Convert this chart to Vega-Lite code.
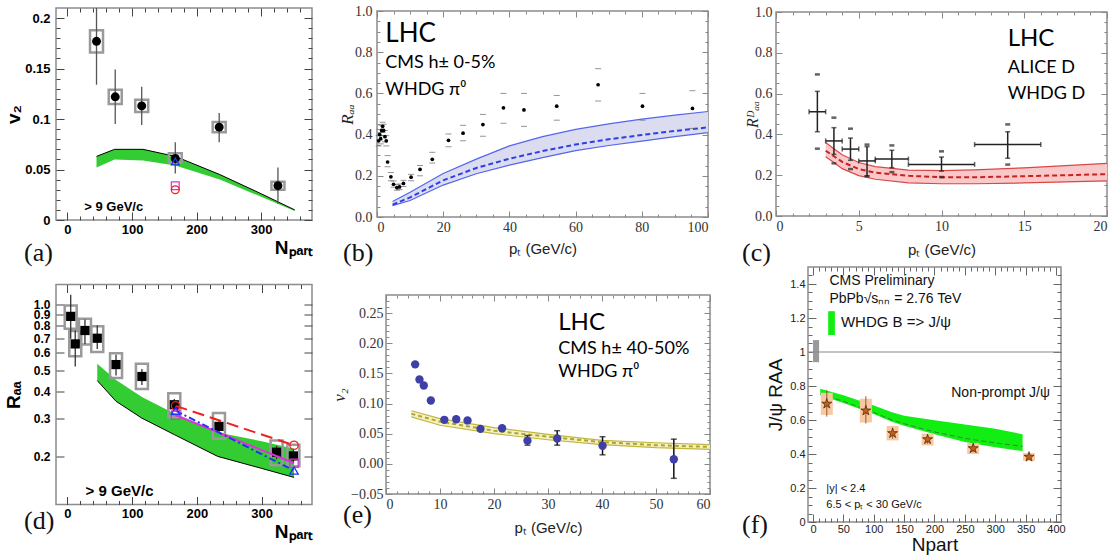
{
"$schema": "https://vega.github.io/schema/vega-lite/v6.json",
"padding": {"left": 3, "top": 3, "right": 0, "bottom": 0},
"background": "white",
"config": {"view": {"stroke": "#8c8c8c", "strokeWidth": 1.5}, "axis": {"grid": false, "domain": false, "labelOverlap": false, "tickCount": 200},
  "title": {"font": "Liberation Serif", "fontSize": 26, "fontWeight": "normal", "color": "#111", "orient": "bottom", "anchor": "start", "frame": "group"}},
"datasets": {
 "a_pts": [
  {"n":45,"v":0.177,"slo":0.134,"shi":0.22,"ylo":0.166,"yhi":0.188},
  {"n":74,"v":0.122,"slo":0.095,"shi":0.149,"ylo":0.115,"yhi":0.129},
  {"n":115,"v":0.113,"slo":0.094,"shi":0.132,"ylo":0.107,"yhi":0.119},
  {"n":167,"v":0.061,"slo":0.046,"shi":0.077,"ylo":0.057,"yhi":0.066},
  {"n":235,"v":0.092,"slo":0.077,"shi":0.106,"ylo":0.087,"yhi":0.097},
  {"n":326,"v":0.034,"slo":0.016,"shi":0.052,"ylo":0.030,"yhi":0.038}],
 "a_band": [
  {"n":45,"lo":0.052,"hi":0.063},{"n":73,"lo":0.060,"hi":0.070},{"n":117,"lo":0.059,"hi":0.070},
  {"n":167,"lo":0.054,"hi":0.063},{"n":236,"lo":0.040,"hi":0.045},{"n":300,"lo":0.023,"hi":0.026},{"n":352,"lo":0.009,"hi":0.010}],
 "a_model": [{"m":"blue","n":167,"v":0.058},{"m":"mag","n":167,"v":0.034},{"m":"red","n":167,"v":0.030}],
 "b_pts": [
  {"pt":0.5,"r":0.37,"lo":0.345,"hi":0.395},{"pt":0.8,"r":0.40,"lo":0.375,"hi":0.425},
  {"pt":1.1,"r":0.38,"lo":0.355,"hi":0.41},{"pt":1.4,"r":0.42,"lo":0.395,"hi":0.445},
  {"pt":1.7,"r":0.44,"lo":0.41,"hi":0.46},{"pt":2.0,"r":0.42,"lo":0.395,"hi":0.45},
  {"pt":2.4,"r":0.39,"lo":0.365,"hi":0.42},{"pt":2.8,"r":0.37,"lo":0.345,"hi":0.395},
  {"pt":3.2,"r":0.267,"lo":0.244,"hi":0.298},{"pt":4.2,"r":0.195,"lo":0.176,"hi":0.216},
  {"pt":5.0,"r":0.159,"lo":0.145,"hi":0.175},{"pt":6.0,"r":0.143,"lo":0.13,"hi":0.157},
  {"pt":6.8,"r":0.146,"lo":0.133,"hi":0.16},{"pt":8.0,"r":0.163,"lo":0.148,"hi":0.178},
  {"pt":10.3,"r":0.193,"lo":0.176,"hi":0.207},{"pt":13.0,"r":0.231,"lo":0.20,"hi":0.25},
  {"pt":16.7,"r":0.28,"lo":0.262,"hi":0.314},{"pt":21.6,"r":0.372,"lo":0.341,"hi":0.403},
  {"pt":26.0,"r":0.407,"lo":0.37,"hi":0.445},{"pt":32.0,"r":0.449,"lo":0.392,"hi":0.498},
  {"pt":38.2,"r":0.53,"lo":0.455,"hi":0.60},{"pt":44.4,"r":0.52,"lo":0.44,"hi":0.60},
  {"pt":54.3,"r":0.538,"lo":0.47,"hi":0.59},{"pt":66.8,"r":0.642,"lo":0.563,"hi":0.72},
  {"pt":80.2,"r":0.538,"lo":0.47,"hi":0.60},{"pt":95.3,"r":0.527,"lo":0.43,"hi":0.613}],
 "b_band": [
  {"pt":4.7,"lo":0.055,"mid":0.06,"hi":0.075},{"pt":10,"lo":0.08,"mid":0.095,"hi":0.12},
  {"pt":20,"lo":0.155,"mid":0.178,"hi":0.211},{"pt":30,"lo":0.21,"mid":0.238,"hi":0.281},
  {"pt":40,"lo":0.252,"mid":0.283,"hi":0.345},{"pt":50,"lo":0.288,"mid":0.32,"hi":0.39},
  {"pt":60,"lo":0.322,"mid":0.352,"hi":0.425},{"pt":70,"lo":0.347,"mid":0.377,"hi":0.452},
  {"pt":80,"lo":0.368,"mid":0.398,"hi":0.475},{"pt":90,"lo":0.39,"mid":0.418,"hi":0.495},
  {"pt":100,"lo":0.41,"mid":0.435,"hi":0.512}],
 "c_pts": [
  {"pt":2.5,"xlo":2,"xhi":3,"r":0.511,"slo":0.413,"shi":0.611,"ylo":0.33,"yhi":0.694},
  {"pt":3.5,"xlo":3,"xhi":4,"r":0.368,"slo":0.302,"shi":0.433,"ylo":0.258,"yhi":0.482},
  {"pt":4.5,"xlo":4,"xhi":5,"r":0.328,"slo":0.273,"shi":0.382,"ylo":0.23,"yhi":0.428},
  {"pt":5.5,"xlo":5,"xhi":6,"r":0.27,"slo":0.196,"shi":0.34,"ylo":0.195,"yhi":0.35},
  {"pt":7,"xlo":6,"xhi":8,"r":0.279,"slo":0.237,"shi":0.322,"ylo":0.215,"yhi":0.346},
  {"pt":10,"xlo":8,"xhi":12,"r":0.253,"slo":0.22,"shi":0.289,"ylo":0.191,"yhi":0.317},
  {"pt":14,"xlo":12,"xhi":16,"r":0.35,"slo":0.283,"shi":0.413,"ylo":0.252,"yhi":0.449}],
 "c_band": [
  {"pt":3,"lo":0.29,"mid":0.32,"hi":0.36},{"pt":3.5,"lo":0.262,"mid":0.293,"hi":0.33},
  {"pt":4,"lo":0.232,"mid":0.265,"hi":0.30},{"pt":5,"lo":0.198,"mid":0.23,"hi":0.262},
  {"pt":6,"lo":0.18,"mid":0.212,"hi":0.242},{"pt":8,"lo":0.162,"mid":0.197,"hi":0.225},
  {"pt":10,"lo":0.158,"mid":0.19,"hi":0.222},{"pt":12,"lo":0.158,"mid":0.19,"hi":0.226},
  {"pt":15,"lo":0.162,"mid":0.195,"hi":0.236},{"pt":20,"lo":0.172,"mid":0.205,"hi":0.258}],
 "d_pts": [
  {"n":5,"r":0.884,"slo":0.697,"shi":1.112,"ylo":0.775,"yhi":0.993},
  {"n":12,"r":0.66,"slo":0.519,"shi":0.761,"ylo":0.579,"yhi":0.756},
  {"n":27,"r":0.761,"slo":0.66,"shi":0.856,"ylo":0.656,"yhi":0.862},
  {"n":46,"r":0.701,"slo":0.626,"shi":0.803,"ylo":0.605,"yhi":0.797},
  {"n":75,"r":0.53,"slo":0.472,"shi":0.588,"ylo":0.46,"yhi":0.598},
  {"n":115,"r":0.467,"slo":0.427,"shi":0.506,"ylo":0.409,"yhi":0.534},
  {"n":165,"r":0.346,"slo":0.322,"shi":0.368,"ylo":0.303,"yhi":0.391},
  {"n":234,"r":0.275,"slo":0.258,"shi":0.292,"ylo":0.241,"yhi":0.317},
  {"n":323,"r":0.209,"slo":0.194,"shi":0.224,"ylo":0.182,"yhi":0.237},
  {"n":349,"r":0.201,"slo":0.188,"shi":0.216,"ylo":0.18,"yhi":0.226}],
 "d_band": [
  {"n":46,"lo":0.447,"hi":0.534},{"n":75,"lo":0.359,"hi":0.45},{"n":115,"lo":0.30,"hi":0.376},
  {"n":165,"lo":0.252,"hi":0.315},{"n":232,"lo":0.20,"hi":0.258},{"n":300,"lo":0.176,"hi":0.235},{"n":350,"lo":0.16,"hi":0.217}],
 "d_models": [
  {"m":"red","n":167,"r":0.342},{"m":"red","n":350,"r":0.225},
  {"m":"mag","n":167,"r":0.31},{"m":"mag","n":350,"r":0.186},
  {"m":"blue","n":167,"r":0.325},{"m":"blue","n":350,"r":0.172}],
 "e_pts": [
  {"pt":5.4,"v":0.165},{"pt":6.2,"v":0.140},{"pt":7.0,"v":0.130},{"pt":8.3,"v":0.105},
  {"pt":10.8,"v":0.073},{"pt":13.0,"v":0.074},{"pt":15.1,"v":0.072},{"pt":17.5,"v":0.058},{"pt":21.5,"v":0.059},
  {"pt":26.2,"v":0.0385,"lo":0.031,"hi":0.047},{"pt":31.7,"v":0.042,"lo":0.031,"hi":0.055},
  {"pt":40.1,"v":0.030,"lo":0.015,"hi":0.045},{"pt":53.3,"v":0.0077,"lo":-0.024,"hi":0.041}],
 "e_band": [
  {"pt":4.7,"lo":0.078,"mid":0.083,"hi":0.088},{"pt":10,"lo":0.064,"mid":0.070,"hi":0.075},
  {"pt":20,"lo":0.050,"mid":0.055,"hi":0.060},{"pt":30,"lo":0.040,"mid":0.045,"hi":0.049},
  {"pt":40,"lo":0.032,"mid":0.036,"hi":0.039},{"pt":50,"lo":0.027,"mid":0.031,"hi":0.035},
  {"pt":60,"lo":0.024,"mid":0.028,"hi":0.032}],
 "f_pts": [
  {"n":22.7,"r":0.695,"blo":0.63,"bhi":0.76,"slo":0.62,"shi":0.775},
  {"n":87,"r":0.655,"blo":0.585,"bhi":0.725,"slo":0.58,"shi":0.74},
  {"n":131,"r":0.522,"blo":0.48,"bhi":0.565,"slo":0.49,"shi":0.555},
  {"n":188.6,"r":0.486,"blo":0.45,"bhi":0.52,"slo":0.46,"shi":0.51},
  {"n":263.7,"r":0.433,"blo":0.40,"bhi":0.465,"slo":0.41,"shi":0.455},
  {"n":355.6,"r":0.383,"blo":0.36,"bhi":0.405,"slo":0.37,"shi":0.395}],
 "f_band": [
  {"n":12,"lo":0.745,"mid":0.752,"hi":0.784},{"n":50,"lo":0.70,"mid":0.71,"hi":0.745},
  {"n":100,"lo":0.635,"mid":0.645,"hi":0.685},{"n":130,"lo":0.59,"mid":0.60,"hi":0.645},
  {"n":150,"lo":0.566,"mid":0.578,"hi":0.625},{"n":200,"lo":0.516,"mid":0.53,"hi":0.598},
  {"n":250,"lo":0.47,"mid":0.492,"hi":0.574},{"n":300,"lo":0.44,"mid":0.465,"hi":0.548},
  {"n":345,"lo":0.417,"mid":0.445,"hi":0.516}]
},
"vconcat": [
 {"hconcat": [
  {"width": 256, "height": 212,
   "title": {"text": "(a)", "dx": -32, "offset": -17},
   "resolve": {"axis": {"x": "independent", "y": "independent"}},
   "layer": [
    {"layer": [
    {"data": {"name": "a_band"}, "mark": {"type": "area", "color": "#33cc33", "opacity": 1},
     "encoding": {
      "x": {"field": "n", "type": "quantitative", "scale": {"domain": [-10, 371], "nice": false, "zero": false},
            "axis": {"title": "Nₚₐᵣₜ", "values": [0,20,40,60,80,100,120,140,160,180,200,220,240,260,280,300,320,340,360], "tickCount": 200, "format": "d", "labelExpr": "datum.value % 100 === 0 ? datum.label : ''", "tickSize": {"condition": {"test": "datum.value % 100 === 0", "value": -8}, "value": -4}, "labelOverlap": false, "titleAnchor": "end", "titleFont": "Liberation Sans", "titleFontWeight": "bold", "titleFontSize": 19, "titleColor": "#000", "titlePadding": -2, "labelFont": "Liberation Sans", "labelFontWeight": "bold", "labelFontSize": 13, "labelColor": "#000", "tickColor": "#444", "labelPadding": 11}},
      "y": {"field": "lo", "type": "quantitative", "scale": {"domain": [0, 0.21], "nice": false},
            "axis": {"title": "v₂", "values": [0,0.01,0.02,0.03,0.04,0.05,0.06,0.07,0.08,0.09,0.1,0.11,0.12,0.13,0.14,0.15,0.16,0.17,0.18,0.19,0.2], "tickCount": 200, "format": ".2~f", "labelExpr": "abs(datum.value*20 - round(datum.value*20)) < 0.001 ? datum.label : ''", "tickSize": {"condition": {"test": "abs(datum.value*20 - round(datum.value*20)) < 0.001", "value": -8}, "value": -4}, "labelOverlap": false, "titleFont": "Liberation Sans", "titleFontWeight": "bold", "titleFontSize": 19, "titleColor": "#000", "titlePadding": 2, "minExtent": 31, "maxExtent": 31, "labelFont": "Liberation Sans", "labelFontWeight": "bold", "labelFontSize": 13, "labelColor": "#000", "tickColor": "#444", "labelPadding": 14}},
      "y2": {"field": "hi"}}},
    {"data": {"name": "a_band"}, "mark": {"type": "line", "color": "#000", "strokeWidth": 1},
     "encoding": {"x": {"field": "n", "type": "quantitative"}, "y": {"field": "hi", "type": "quantitative"}}},
    {"data": {"name": "a_pts"}, "mark": {"type": "bar", "width": 13, "fillOpacity": 0, "stroke": "#9a9a9a", "strokeWidth": 2.5},
     "encoding": {"x": {"field": "n", "type": "quantitative"}, "y": {"field": "ylo", "type": "quantitative"}, "y2": {"field": "yhi"}}},
    {"data": {"name": "a_pts"}, "mark": {"type": "rule", "color": "#555", "strokeWidth": 1.3, "clip": true},
     "encoding": {"x": {"field": "n", "type": "quantitative"}, "y": {"field": "slo", "type": "quantitative"}, "y2": {"field": "shi"}}},
    {"data": {"name": "a_pts"}, "mark": {"type": "point", "shape": "circle", "filled": true, "color": "#000", "size": 80, "opacity": 1},
     "encoding": {"x": {"field": "n", "type": "quantitative"}, "y": {"field": "v", "type": "quantitative"}}},
    {"data": {"name": "a_model"}, "mark": {"type": "point", "filled": false, "size": 60, "strokeWidth": 1.3, "opacity": 1},
     "encoding": {"x": {"field": "n", "type": "quantitative"}, "y": {"field": "v", "type": "quantitative"},
      "shape": {"field": "m", "type": "nominal", "scale": {"domain": ["red","mag","blue"], "range": ["circle","square","triangle-up"]}, "legend": null},
      "color": {"field": "m", "type": "nominal", "scale": {"domain": ["red","mag","blue"], "range": ["#ee2222","#dd33dd","#2233ee"]}, "legend": null}}},
    {"data": {"values": [{}]}, "mark": {"type": "text", "text": "> 9 GeV/c", "font": "Liberation Sans", "fontWeight": "bold", "fontSize": 13, "align": "left", "baseline": "middle"},
     "encoding": {"x": {"datum": 26}, "y": {"datum": 0.013}}}
    ]},
    {"data": {"values": [{}]}, "mark": {"type": "point", "opacity": 0},
     "encoding": {
      "x": {"datum": 100, "type": "quantitative", "axis": {"orient": "top", "title": null, "labels": false, "tickCount": 200, "values": [0,20,40,60,80,100,120,140,160,180,200,220,240,260,280,300,320,340,360], "tickSize": {"condition": {"test": "datum.value % 100 === 0", "value": -8}, "value": -4}, "tickColor": "#444"}},
      "y": {"datum": 0.1, "type": "quantitative", "axis": {"orient": "right", "title": null, "labels": false, "tickCount": 200, "values": [0,0.01,0.02,0.03,0.04,0.05,0.06,0.07,0.08,0.09,0.1,0.11,0.12,0.13,0.14,0.15,0.16,0.17,0.18,0.19,0.2], "tickSize": {"condition": {"test": "abs(datum.value*20 - round(datum.value*20)) < 0.001", "value": -8}, "value": -4}, "tickColor": "#444"}}}}
   ]},
  {"width": 65, "height": 10, "data": {"values": []}, "mark": "point", "encoding": {}, "view": {"stroke": null}},
  {"width": 331, "height": 206,
   "title": {"text": "(b)", "dx": -34, "offset": -16},
   "resolve": {"axis": {"x": "independent", "y": "independent"}},
   "layer": [
    {"layer": [
    {"data": {"name": "b_band"}, "mark": {"type": "area", "color": "#dcdcf0", "opacity": 1},
     "encoding": {
      "x": {"field": "pt", "type": "quantitative", "scale": {"domain": [0, 100], "nice": false, "zero": false},
            "axis": {"title": "pₜ (GeV/c)", "values": [0,5,10,15,20,25,30,35,40,45,50,55,60,65,70,75,80,85,90,95,100], "tickCount": 200, "format": "d", "labelExpr": "datum.value % 20 === 0 ? datum.label : ''", "tickSize": {"condition": {"test": "datum.value % 20 === 0", "value": -6}, "value": -3}, "labelOverlap": false, "titleFont": "Liberation Sans", "titleFontSize": 15, "titleFontWeight": "normal", "titleColor": "#222", "titlePadding": 4, "labelFont": "Liberation Serif", "labelFontSize": 14, "labelColor": "#333", "tickColor": "#888", "labelPadding": 9}},
      "y": {"field": "lo", "type": "quantitative", "scale": {"domain": [0, 1], "nice": false},
            "axis": {"title": "Rₐₐ", "values": [0,0.05,0.1,0.15,0.2,0.25,0.3,0.35,0.4,0.45,0.5,0.55,0.6,0.65,0.7,0.75,0.8,0.85,0.9,0.95,1], "tickCount": 200, "format": ".1f", "labelExpr": "abs(datum.value*5 - round(datum.value*5)) < 0.001 ? datum.label : ''", "tickSize": {"condition": {"test": "abs(datum.value*5 - round(datum.value*5)) < 0.001", "value": -6}, "value": -3}, "labelOverlap": false, "titleFont": "Liberation Serif", "titleFontStyle": "italic", "titleFontSize": 17, "titleFontWeight": "normal", "titleColor": "#222", "titlePadding": -2, "labelFont": "Liberation Serif", "labelFontSize": 14, "labelColor": "#333", "tickColor": "#888", "labelPadding": 11}},
      "y2": {"field": "hi"}}},
    {"data": {"name": "b_band"}, "mark": {"type": "line", "color": "#5266f0", "strokeWidth": 1.2},
     "encoding": {"x": {"field": "pt", "type": "quantitative"}, "y": {"field": "hi", "type": "quantitative"}}},
    {"data": {"name": "b_band"}, "mark": {"type": "line", "color": "#5266f0", "strokeWidth": 1.2},
     "encoding": {"x": {"field": "pt", "type": "quantitative"}, "y": {"field": "lo", "type": "quantitative"}}},
    {"data": {"name": "b_band"}, "mark": {"type": "line", "color": "#2c3ee8", "strokeWidth": 2, "strokeDash": [5, 3]},
     "encoding": {"x": {"field": "pt", "type": "quantitative"}, "y": {"field": "mid", "type": "quantitative"}}},
    {"data": {"name": "b_pts"}, "mark": {"type": "tick", "orient": "horizontal", "size": 6, "thickness": 1, "color": "#666"},
     "encoding": {"x": {"field": "pt", "type": "quantitative"}, "y": {"field": "hi", "type": "quantitative"}}},
    {"data": {"name": "b_pts"}, "mark": {"type": "tick", "orient": "horizontal", "size": 6, "thickness": 1, "color": "#666"},
     "encoding": {"x": {"field": "pt", "type": "quantitative"}, "y": {"field": "lo", "type": "quantitative"}}},
    {"data": {"name": "b_pts"}, "mark": {"type": "point", "shape": "circle", "filled": true, "color": "#000", "size": 14, "opacity": 1},
     "encoding": {"x": {"field": "pt", "type": "quantitative"}, "y": {"field": "r", "type": "quantitative"}}},
    {"data": {"values": [{}]}, "mark": {"type": "text", "text": "LHC", "font": "Lato", "fontSize": 26, "align": "left", "baseline": "middle"},
     "encoding": {"x": {"datum": 2.5}, "y": {"datum": 0.89}}},
    {"data": {"values": [{}]}, "mark": {"type": "text", "text": "CMS h± 0-5%", "font": "Lato", "fontSize": 18, "align": "left", "baseline": "middle"},
     "encoding": {"x": {"datum": 2.5}, "y": {"datum": 0.748}}},
    {"data": {"values": [{}]}, "mark": {"type": "text", "text": "WHDG π⁰", "font": "Lato", "fontSize": 18, "align": "left", "baseline": "middle"},
     "encoding": {"x": {"datum": 2.5}, "y": {"datum": 0.615}}}
    ]},
    {"data": {"values": [{}]}, "mark": {"type": "point", "opacity": 0},
     "encoding": {
      "x": {"datum": 50, "type": "quantitative", "axis": {"orient": "top", "title": null, "labels": false, "tickCount": 200, "values": [0,5,10,15,20,25,30,35,40,45,50,55,60,65,70,75,80,85,90,95,100], "tickSize": {"condition": {"test": "datum.value % 20 === 0", "value": -6}, "value": -3}, "tickColor": "#888"}},
      "y": {"datum": 0.5, "type": "quantitative", "axis": {"orient": "right", "title": null, "labels": false, "tickCount": 200, "values": [0,0.05,0.1,0.15,0.2,0.25,0.3,0.35,0.4,0.45,0.5,0.55,0.6,0.65,0.7,0.75,0.8,0.85,0.9,0.95,1], "tickSize": {"condition": {"test": "abs(datum.value*5 - round(datum.value*5)) < 0.001", "value": -6}, "value": -3}, "tickColor": "#888"}}}}
   ]},
  {"width": 68, "height": 10, "data": {"values": []}, "mark": "point", "encoding": {}, "view": {"stroke": null}},
  {"width": 331, "height": 204,
   "title": {"text": "(c)", "dx": -34, "offset": -17},
   "resolve": {"axis": {"x": "independent", "y": "independent"}},
   "layer": [
    {"layer": [
    {"data": {"name": "c_band"}, "mark": {"type": "area", "color": "#f9c9c9", "opacity": 1},
     "encoding": {
      "x": {"field": "pt", "type": "quantitative", "scale": {"domain": [0, 20], "nice": false, "zero": false},
            "axis": {"title": "pₜ (GeV/c)", "values": [0,1,2,3,4,5,6,7,8,9,10,11,12,13,14,15,16,17,18,19,20], "tickCount": 200, "format": "d", "labelExpr": "datum.value % 5 === 0 ? datum.label : ''", "tickSize": {"condition": {"test": "datum.value % 5 === 0", "value": -6}, "value": -3}, "labelOverlap": false, "titleFont": "Liberation Sans", "titleFontSize": 15, "titleFontWeight": "normal", "titleColor": "#222", "titlePadding": 6, "labelFont": "Liberation Serif", "labelFontSize": 14, "labelColor": "#333", "tickColor": "#888", "labelPadding": 9}},
      "y": {"field": "lo", "type": "quantitative", "scale": {"domain": [0, 1], "nice": false},
            "axis": {"title": "Rᴰₐₐ", "values": [0,0.05,0.1,0.15,0.2,0.25,0.3,0.35,0.4,0.45,0.5,0.55,0.6,0.65,0.7,0.75,0.8,0.85,0.9,0.95,1], "tickCount": 200, "format": ".1f", "labelExpr": "abs(datum.value*5 - round(datum.value*5)) < 0.001 ? datum.label : ''", "tickSize": {"condition": {"test": "abs(datum.value*5 - round(datum.value*5)) < 0.001", "value": -6}, "value": -3}, "labelOverlap": false, "titleFont": "Liberation Serif", "titleFontStyle": "italic", "titleFontSize": 16, "titleFontWeight": "normal", "titleColor": "#222", "titlePadding": -6, "labelFont": "Liberation Serif", "labelFontSize": 14, "labelColor": "#333", "tickColor": "#888", "labelPadding": 10}},
      "y2": {"field": "hi"}}},
    {"data": {"name": "c_band"}, "mark": {"type": "line", "color": "#d94848", "strokeWidth": 1.2},
     "encoding": {"x": {"field": "pt", "type": "quantitative"}, "y": {"field": "hi", "type": "quantitative"}}},
    {"data": {"name": "c_band"}, "mark": {"type": "line", "color": "#d94848", "strokeWidth": 1.2},
     "encoding": {"x": {"field": "pt", "type": "quantitative"}, "y": {"field": "lo", "type": "quantitative"}}},
    {"data": {"name": "c_band"}, "mark": {"type": "line", "color": "#cc2020", "strokeWidth": 2, "strokeDash": [5, 3]},
     "encoding": {"x": {"field": "pt", "type": "quantitative"}, "y": {"field": "mid", "type": "quantitative"}}},
    {"data": {"name": "c_pts"}, "mark": {"type": "rule", "color": "#222", "strokeWidth": 1.5},
     "encoding": {"x": {"field": "xlo", "type": "quantitative"}, "x2": {"field": "xhi"}, "y": {"field": "r", "type": "quantitative"}}},
    {"data": {"name": "c_pts"}, "mark": {"type": "rule", "color": "#222", "strokeWidth": 1.5},
     "encoding": {"x": {"field": "pt", "type": "quantitative"}, "y": {"field": "slo", "type": "quantitative"}, "y2": {"field": "shi"}}},
    {"data": {"name": "c_pts"}, "mark": {"type": "tick", "orient": "vertical", "size": 5, "thickness": 1.5, "color": "#222"},
     "encoding": {"x": {"field": "xlo", "type": "quantitative"}, "y": {"field": "r", "type": "quantitative"}}},
    {"data": {"name": "c_pts"}, "mark": {"type": "tick", "orient": "vertical", "size": 5, "thickness": 1.5, "color": "#222"},
     "encoding": {"x": {"field": "xhi", "type": "quantitative"}, "y": {"field": "r", "type": "quantitative"}}},
    {"data": {"name": "c_pts"}, "mark": {"type": "tick", "orient": "horizontal", "size": 5, "thickness": 1.5, "color": "#222"},
     "encoding": {"x": {"field": "pt", "type": "quantitative"}, "y": {"field": "slo", "type": "quantitative"}}},
    {"data": {"name": "c_pts"}, "mark": {"type": "tick", "orient": "horizontal", "size": 5, "thickness": 1.5, "color": "#222"},
     "encoding": {"x": {"field": "pt", "type": "quantitative"}, "y": {"field": "shi", "type": "quantitative"}}},
    {"data": {"name": "c_pts"}, "mark": {"type": "tick", "orient": "horizontal", "size": 5, "thickness": 2.5, "color": "#222"},
     "encoding": {"x": {"field": "pt", "type": "quantitative"}, "y": {"field": "ylo", "type": "quantitative"}}},
    {"data": {"name": "c_pts"}, "mark": {"type": "tick", "orient": "horizontal", "size": 5, "thickness": 2.5, "color": "#222"},
     "encoding": {"x": {"field": "pt", "type": "quantitative"}, "y": {"field": "yhi", "type": "quantitative"}}},
    {"data": {"values": [{}]}, "mark": {"type": "text", "text": "LHC", "font": "Lato", "fontSize": 24, "align": "left", "baseline": "middle"},
     "encoding": {"x": {"datum": 14.0}, "y": {"datum": 0.866}}},
    {"data": {"values": [{}]}, "mark": {"type": "text", "text": "ALICE D", "font": "Lato", "fontSize": 18, "align": "left", "baseline": "middle"},
     "encoding": {"x": {"datum": 14.0}, "y": {"datum": 0.727}}},
    {"data": {"values": [{}]}, "mark": {"type": "text", "text": "WHDG D", "font": "Lato", "fontSize": 18, "align": "left", "baseline": "middle"},
     "encoding": {"x": {"datum": 14.0}, "y": {"datum": 0.597}}}
    ]},
    {"data": {"values": [{}]}, "mark": {"type": "point", "opacity": 0},
     "encoding": {
      "x": {"datum": 10, "type": "quantitative", "axis": {"orient": "top", "title": null, "labels": false, "tickCount": 200, "values": [0,1,2,3,4,5,6,7,8,9,10,11,12,13,14,15,16,17,18,19,20], "tickSize": {"condition": {"test": "datum.value % 5 === 0", "value": -6}, "value": -3}, "tickColor": "#888"}},
      "y": {"datum": 0.5, "type": "quantitative", "axis": {"orient": "right", "title": null, "labels": false, "tickCount": 200, "values": [0,0.05,0.1,0.15,0.2,0.25,0.3,0.35,0.4,0.45,0.5,0.55,0.6,0.65,0.7,0.75,0.8,0.85,0.9,0.95,1], "tickSize": {"condition": {"test": "abs(datum.value*5 - round(datum.value*5)) < 0.001", "value": -6}, "value": -3}, "tickColor": "#888"}}}}
   ]}
 ], "spacing": 0, "bounds": "flush", "center": true},
 {"hconcat": [
  {"width": 256, "height": 220,
   "title": {"text": "(d)", "dx": -32, "offset": -34},
   "resolve": {"axis": {"x": "independent", "y": "independent"}},
   "layer": [
    {"layer": [
    {"data": {"name": "d_band"}, "mark": {"type": "area", "color": "#33cc33", "opacity": 1},
     "encoding": {
      "x": {"field": "n", "type": "quantitative", "scale": {"domain": [-10, 370], "nice": false, "zero": false},
            "axis": {"title": "Nₚₐᵣₜ", "values": [0,20,40,60,80,100,120,140,160,180,200,220,240,260,280,300,320,340,360], "tickCount": 200, "format": "d", "labelExpr": "datum.value % 100 === 0 ? datum.label : ''", "tickSize": {"condition": {"test": "datum.value % 100 === 0", "value": -8}, "value": -4}, "labelOverlap": false, "titleAnchor": "end", "titleFont": "Liberation Sans", "titleFontWeight": "bold", "titleFontSize": 19, "titleColor": "#000", "titlePadding": -2, "labelFont": "Liberation Sans", "labelFontWeight": "bold", "labelFontSize": 13, "labelColor": "#000", "tickColor": "#444", "labelPadding": 11}},
      "y": {"field": "lo", "type": "quantitative", "scale": {"type": "log", "domain": [0.12, 1.24], "nice": false},
            "axis": {"title": "Rₐₐ", "values": [0.2,0.3,0.4,0.5,0.6,0.7,0.8,0.9,1.0], "tickCount": 200, "format": ".1f", "labelOverlap": false, "titleFont": "Liberation Sans", "titleFontWeight": "bold", "titleFontSize": 19, "titleColor": "#000", "titlePadding": 2, "minExtent": 31, "maxExtent": 31, "labelFont": "Liberation Sans", "labelFontWeight": "bold", "labelFontSize": 12, "labelColor": "#000", "tickColor": "#444", "tickSize": -8, "labelPadding": 14}},
      "y2": {"field": "hi"}}},
    {"data": {"name": "d_band"}, "mark": {"type": "line", "color": "#000", "strokeWidth": 1},
     "encoding": {"x": {"field": "n", "type": "quantitative"}, "y": {"field": "lo", "type": "quantitative"}}},
    {"data": {"name": "d_pts"}, "mark": {"type": "bar", "width": 12, "fillOpacity": 0, "stroke": "#9a9a9a", "strokeWidth": 2.5},
     "encoding": {"x": {"field": "n", "type": "quantitative"}, "y": {"field": "ylo", "type": "quantitative"}, "y2": {"field": "yhi"}}},
    {"data": {"name": "d_pts"}, "mark": {"type": "rule", "color": "#333", "strokeWidth": 1.3, "clip": true},
     "encoding": {"x": {"field": "n", "type": "quantitative"}, "y": {"field": "slo", "type": "quantitative"}, "y2": {"field": "shi"}}},
    {"data": {"name": "d_pts"}, "mark": {"type": "point", "shape": "square", "filled": true, "color": "#000", "size": 85, "opacity": 1},
     "encoding": {"x": {"field": "n", "type": "quantitative"}, "y": {"field": "r", "type": "quantitative"}}},
    {"data": {"name": "d_models"}, "mark": {"type": "line", "strokeWidth": 2},
     "encoding": {"x": {"field": "n", "type": "quantitative"}, "y": {"field": "r", "type": "quantitative"},
      "color": {"field": "m", "type": "nominal", "scale": {"domain": ["red","mag","blue"], "range": ["#ee2222","#dd33dd","#2233ee"]}, "legend": null},
      "strokeDash": {"field": "m", "type": "nominal", "scale": {"domain": ["red","mag","blue"], "range": [[12,6],[1,0],[7,3,2,3]]}, "legend": null}}},
    {"data": {"name": "d_models"}, "mark": {"type": "point", "filled": false, "size": 70, "strokeWidth": 1.3, "opacity": 1},
     "encoding": {"x": {"field": "n", "type": "quantitative"}, "y": {"field": "r", "type": "quantitative"},
      "shape": {"field": "m", "type": "nominal", "scale": {"domain": ["red","mag","blue"], "range": ["circle","square","triangle-up"]}, "legend": null},
      "color": {"field": "m", "type": "nominal", "scale": {"domain": ["red","mag","blue"], "range": ["#ee2222","#dd33dd","#2233ee"]}, "legend": null}}},
    {"data": {"values": [{}]}, "mark": {"type": "text", "text": "> 9 GeV/c", "font": "Liberation Sans", "fontWeight": "bold", "fontSize": 15, "align": "left", "baseline": "middle"},
     "encoding": {"x": {"datum": 28}, "y": {"datum": 0.139}}}
    ]},
    {"data": {"values": [{}]}, "mark": {"type": "point", "opacity": 0},
     "encoding": {
      "x": {"datum": 100, "type": "quantitative", "axis": {"orient": "top", "title": null, "labels": false, "tickCount": 200, "values": [0,20,40,60,80,100,120,140,160,180,200,220,240,260,280,300,320,340,360], "tickSize": {"condition": {"test": "datum.value % 100 === 0", "value": -8}, "value": -4}, "tickColor": "#444"}},
      "y": {"datum": 0.5, "type": "quantitative", "axis": {"orient": "right", "title": null, "labels": false, "tickCount": 200, "values": [0.2,0.3,0.4,0.5,0.6,0.7,0.8,0.9,1.0], "tickSize": -8, "tickColor": "#444"}}}}
   ]},
  {"width": 74, "height": 10, "data": {"values": []}, "mark": "point", "encoding": {}, "view": {"stroke": null}},
  {"width": 324, "height": 199,
   "title": {"text": "(e)", "dx": -43, "offset": -33},
   "resolve": {"axis": {"x": "independent", "y": "independent"}},
   "layer": [
    {"layer": [
    {"data": {"name": "e_band"}, "mark": {"type": "area", "color": "#f4f1c0", "opacity": 1},
     "encoding": {
      "x": {"field": "pt", "type": "quantitative", "scale": {"domain": [0, 60], "nice": false, "zero": false},
            "axis": {"title": "pₜ (GeV/c)", "values": [0,2,4,6,8,10,12,14,16,18,20,22,24,26,28,30,32,34,36,38,40,42,44,46,48,50,52,54,56,58,60], "tickCount": 200, "format": "d", "labelExpr": "datum.value % 10 === 0 ? datum.label : ''", "tickSize": {"condition": {"test": "datum.value % 10 === 0", "value": -6}, "value": -3}, "labelOverlap": false, "titleFont": "Liberation Sans", "titleFontSize": 15, "titleFontWeight": "normal", "titleColor": "#222", "titlePadding": 6, "labelFont": "Liberation Serif", "labelFontSize": 14, "labelColor": "#333", "tickColor": "#888", "labelPadding": 9}},
      "y": {"field": "lo", "type": "quantitative", "scale": {"domain": [-0.05, 0.28], "nice": false, "zero": false},
            "axis": {"title": "v₂", "values": [-0.05,-0.04,-0.03,-0.02,-0.01,0,0.01,0.02,0.03,0.04,0.05,0.06,0.07,0.08,0.09,0.1,0.11,0.12,0.13,0.14,0.15,0.16,0.17,0.18,0.19,0.2,0.21,0.22,0.23,0.24,0.25,0.26,0.27], "tickCount": 200, "format": ".2f", "labelExpr": "abs(datum.value*20 - round(datum.value*20)) < 0.001 ? datum.label : ''", "tickSize": {"condition": {"test": "abs(datum.value*20 - round(datum.value*20)) < 0.001", "value": -6}, "value": -3}, "labelOverlap": false, "titleFont": "Liberation Serif", "titleFontStyle": "italic", "titleFontSize": 17, "titleFontWeight": "normal", "titleColor": "#222", "titlePadding": 2, "labelFont": "Liberation Serif", "labelFontSize": 14, "labelColor": "#333", "tickColor": "#888", "labelPadding": 9}},
      "y2": {"field": "hi"}}},
    {"data": {"name": "e_band"}, "mark": {"type": "line", "color": "#c1b63f", "strokeWidth": 1.2},
     "encoding": {"x": {"field": "pt", "type": "quantitative"}, "y": {"field": "hi", "type": "quantitative"}}},
    {"data": {"name": "e_band"}, "mark": {"type": "line", "color": "#c1b63f", "strokeWidth": 1.2},
     "encoding": {"x": {"field": "pt", "type": "quantitative"}, "y": {"field": "lo", "type": "quantitative"}}},
    {"data": {"name": "e_band"}, "mark": {"type": "line", "color": "#b0a430", "strokeWidth": 2, "strokeDash": [4, 3]},
     "encoding": {"x": {"field": "pt", "type": "quantitative"}, "y": {"field": "mid", "type": "quantitative"}}},
    {"data": {"name": "e_pts"}, "transform": [{"filter": "isValid(datum.lo)"}], "mark": {"type": "rule", "color": "#111", "strokeWidth": 1.5},
     "encoding": {"x": {"field": "pt", "type": "quantitative"}, "y": {"field": "lo", "type": "quantitative"}, "y2": {"field": "hi"}}},
    {"data": {"name": "e_pts"}, "transform": [{"filter": "isValid(datum.lo)"}], "mark": {"type": "tick", "orient": "horizontal", "size": 6, "thickness": 1.5, "color": "#111"},
     "encoding": {"x": {"field": "pt", "type": "quantitative"}, "y": {"field": "lo", "type": "quantitative"}}},
    {"data": {"name": "e_pts"}, "transform": [{"filter": "isValid(datum.lo)"}], "mark": {"type": "tick", "orient": "horizontal", "size": 6, "thickness": 1.5, "color": "#111"},
     "encoding": {"x": {"field": "pt", "type": "quantitative"}, "y": {"field": "hi", "type": "quantitative"}}},
    {"data": {"name": "e_pts"}, "mark": {"type": "point", "shape": "circle", "filled": true, "color": "#3f3fa8", "size": 70, "opacity": 1},
     "encoding": {"x": {"field": "pt", "type": "quantitative"}, "y": {"field": "v", "type": "quantitative"}}},
    {"data": {"values": [{}]}, "mark": {"type": "text", "text": "LHC", "font": "Lato", "fontSize": 24, "align": "left", "baseline": "middle"},
     "encoding": {"x": {"datum": 31.9}, "y": {"datum": 0.234}}},
    {"data": {"values": [{}]}, "mark": {"type": "text", "text": "CMS h± 40-50%", "font": "Lato", "fontSize": 18, "align": "left", "baseline": "middle"},
     "encoding": {"x": {"datum": 31.9}, "y": {"datum": 0.191}}},
    {"data": {"values": [{}]}, "mark": {"type": "text", "text": "WHDG π⁰", "font": "Lato", "fontSize": 18, "align": "left", "baseline": "middle"},
     "encoding": {"x": {"datum": 31.9}, "y": {"datum": 0.152}}}
    ]},
    {"data": {"values": [{}]}, "mark": {"type": "point", "opacity": 0},
     "encoding": {
      "x": {"datum": 30, "type": "quantitative", "axis": {"orient": "top", "title": null, "labels": false, "tickCount": 200, "values": [0,2,4,6,8,10,12,14,16,18,20,22,24,26,28,30,32,34,36,38,40,42,44,46,48,50,52,54,56,58,60], "tickSize": {"condition": {"test": "datum.value % 10 === 0", "value": -6}, "value": -3}, "tickColor": "#888"}},
      "y": {"datum": 0.1, "type": "quantitative", "axis": {"orient": "right", "title": null, "labels": false, "tickCount": 200, "values": [-0.05,-0.04,-0.03,-0.02,-0.01,0,0.01,0.02,0.03,0.04,0.05,0.06,0.07,0.08,0.09,0.1,0.11,0.12,0.13,0.14,0.15,0.16,0.17,0.18,0.19,0.2,0.21,0.22,0.23,0.24,0.25,0.26,0.27], "tickSize": {"condition": {"test": "abs(datum.value*20 - round(datum.value*20)) < 0.001", "value": -6}, "value": -3}, "tickColor": "#888"}}}}
   ]},
  {"width": 98, "height": 10, "data": {"values": []}, "mark": "point", "encoding": {}, "view": {"stroke": null}},
  {"width": 253, "height": 255,
   "title": {"text": "(f)", "dx": -66, "offset": -42},
   "resolve": {"axis": {"x": "independent", "y": "independent"}},
   "layer": [
    {"layer": [
    {"data": {"name": "f_band"}, "mark": {"type": "area", "color": "#11ee11", "opacity": 1},
     "encoding": {
      "x": {"field": "n", "type": "quantitative", "scale": {"domain": [0, 400], "nice": false, "zero": false},
            "axis": {"title": "Npart", "values": [0,10,20,30,40,50,60,70,80,90,100,110,120,130,140,150,160,170,180,190,200,210,220,230,240,250,260,270,280,290,300,310,320,330,340,350,360,370,380,390,400], "tickCount": 200, "format": "d", "labelExpr": "datum.value % 50 === 0 ? datum.label : ''", "tickSize": {"condition": {"test": "datum.value % 50 === 0", "value": -8}, "value": -4}, "labelOverlap": false, "titleFont": "Liberation Sans", "titleFontSize": 19, "titleFontWeight": "normal", "titleColor": "#111", "titlePadding": -3, "labelFont": "Liberation Sans", "labelFontSize": 11, "labelColor": "#222", "tickColor": "#666", "labelPadding": 9}},
      "y": {"field": "lo", "type": "quantitative", "scale": {"domain": [0, 1.5], "nice": false},
            "axis": {"title": "J/ψ RAA", "values": [0,0.05,0.1,0.15,0.2,0.25,0.3,0.35,0.4,0.45,0.5,0.55,0.6,0.65,0.7,0.75,0.8,0.85,0.9,0.95,1,1.05,1.1,1.15,1.2,1.25,1.3,1.35,1.4,1.45], "tickCount": 200, "format": ".1~f", "labelExpr": "abs(datum.value*5 - round(datum.value*5)) < 0.001 ? datum.label : ''", "tickSize": {"condition": {"test": "abs(datum.value*5 - round(datum.value*5)) < 0.001", "value": -8}, "value": -4}, "labelOverlap": false, "titleFont": "Liberation Sans", "titleFontSize": 19, "titleFontWeight": "normal", "titleColor": "#111", "titlePadding": 4, "labelFont": "Liberation Sans", "labelFontSize": 11, "labelColor": "#222", "tickColor": "#666", "labelPadding": 11}},
      "y2": {"field": "hi"}}},
    {"data": {"name": "f_band"}, "mark": {"type": "line", "color": "#338833", "strokeWidth": 1, "strokeDash": [5, 3]},
     "encoding": {"x": {"field": "n", "type": "quantitative"}, "y": {"field": "mid", "type": "quantitative"}}},
    {"data": {"values": [{}]}, "mark": {"type": "rect", "color": "#999999"},
     "encoding": {"x": {"datum": 0}, "x2": {"datum": 10}, "y": {"datum": 0.94}, "y2": {"datum": 1.07}}},
    {"data": {"values": [{}]}, "mark": {"type": "rule", "color": "#888", "strokeWidth": 1.2},
     "encoding": {"y": {"datum": 1}}},
    {"data": {"name": "f_pts"}, "mark": {"type": "bar", "width": 12, "color": "#f8c8a0", "opacity": 1},
     "encoding": {"x": {"field": "n", "type": "quantitative"}, "y": {"field": "blo", "type": "quantitative"}, "y2": {"field": "bhi"}}},
    {"data": {"name": "f_pts"}, "mark": {"type": "rule", "color": "#8b5a3c", "strokeWidth": 1},
     "encoding": {"x": {"field": "n", "type": "quantitative"}, "y": {"field": "slo", "type": "quantitative"}, "y2": {"field": "shi"}}},
    {"data": {"name": "f_pts"}, "mark": {"type": "point", "shape": "M0,-1L0.2245,-0.309L0.951,-0.309L0.363,0.118L0.588,0.809L0,0.382L-0.588,0.809L-0.363,0.118L-0.951,-0.309L-0.2245,-0.309Z", "filled": true, "fill": "#c0601c", "stroke": "#4a2000", "strokeWidth": 0.7, "size": 110, "opacity": 1},
     "encoding": {"x": {"field": "n", "type": "quantitative"}, "y": {"field": "r", "type": "quantitative"}}},
    {"data": {"values": [{}]}, "mark": {"type": "rect", "color": "#11ee11"},
     "encoding": {"x": {"datum": 25}, "x2": {"datum": 36}, "y": {"datum": 1.1}, "y2": {"datum": 1.24}}},
    {"data": {"values": [{}]}, "mark": {"type": "text", "text": "CMS Preliminary", "font": "Liberation Sans", "fontSize": 14, "align": "left", "baseline": "middle", "color": "#111"},
     "encoding": {"x": {"datum": 27}, "y": {"datum": 1.42}}},
    {"data": {"values": [{}]}, "mark": {"type": "text", "text": "PbPb√sₙₙ = 2.76 TeV", "font": "Liberation Sans", "fontSize": 14, "align": "left", "baseline": "middle", "color": "#111"},
     "encoding": {"x": {"datum": 27}, "y": {"datum": 1.31}}},
    {"data": {"values": [{}]}, "mark": {"type": "text", "text": "WHDG B  => J/ψ", "font": "Liberation Sans", "fontSize": 15, "align": "left", "baseline": "middle", "color": "#111"},
     "encoding": {"x": {"datum": 46}, "y": {"datum": 1.175}}},
    {"data": {"values": [{}]}, "mark": {"type": "text", "text": "Non-prompt J/ψ", "font": "Liberation Sans", "fontSize": 14, "align": "right", "baseline": "middle", "color": "#111"},
     "encoding": {"x": {"datum": 390}, "y": {"datum": 0.76}}},
    {"data": {"values": [{}]}, "mark": {"type": "text", "text": "|y| < 2.4", "font": "Liberation Sans", "fontSize": 11, "align": "left", "baseline": "middle", "color": "#111"},
     "encoding": {"x": {"datum": 22}, "y": {"datum": 0.195}}},
    {"data": {"values": [{}]}, "mark": {"type": "text", "text": "6.5 < pₜ < 30 GeV/c", "font": "Liberation Sans", "fontSize": 11, "align": "left", "baseline": "middle", "color": "#111"},
     "encoding": {"x": {"datum": 22}, "y": {"datum": 0.10}}}
    ]},
    {"data": {"values": [{}]}, "mark": {"type": "point", "opacity": 0},
     "encoding": {
      "x": {"datum": 200, "type": "quantitative", "axis": {"orient": "top", "title": null, "labels": false, "tickCount": 200, "values": [0,10,20,30,40,50,60,70,80,90,100,110,120,130,140,150,160,170,180,190,200,210,220,230,240,250,260,270,280,290,300,310,320,330,340,350,360,370,380,390,400], "tickSize": {"condition": {"test": "datum.value % 50 === 0", "value": -8}, "value": -4}, "tickColor": "#666"}},
      "y": {"datum": 0.5, "type": "quantitative", "axis": {"orient": "right", "title": null, "labels": false, "tickCount": 200, "values": [0,0.05,0.1,0.15,0.2,0.25,0.3,0.35,0.4,0.45,0.5,0.55,0.6,0.65,0.7,0.75,0.8,0.85,0.9,0.95,1,1.05,1.1,1.15,1.2,1.25,1.3,1.35,1.4,1.45], "tickSize": {"condition": {"test": "abs(datum.value*5 - round(datum.value*5)) < 0.001", "value": -8}, "value": -4}, "tickColor": "#666"}}}}
   ]}
 ], "spacing": 0, "bounds": "flush", "center": true}
],
"spacing": -5
}
